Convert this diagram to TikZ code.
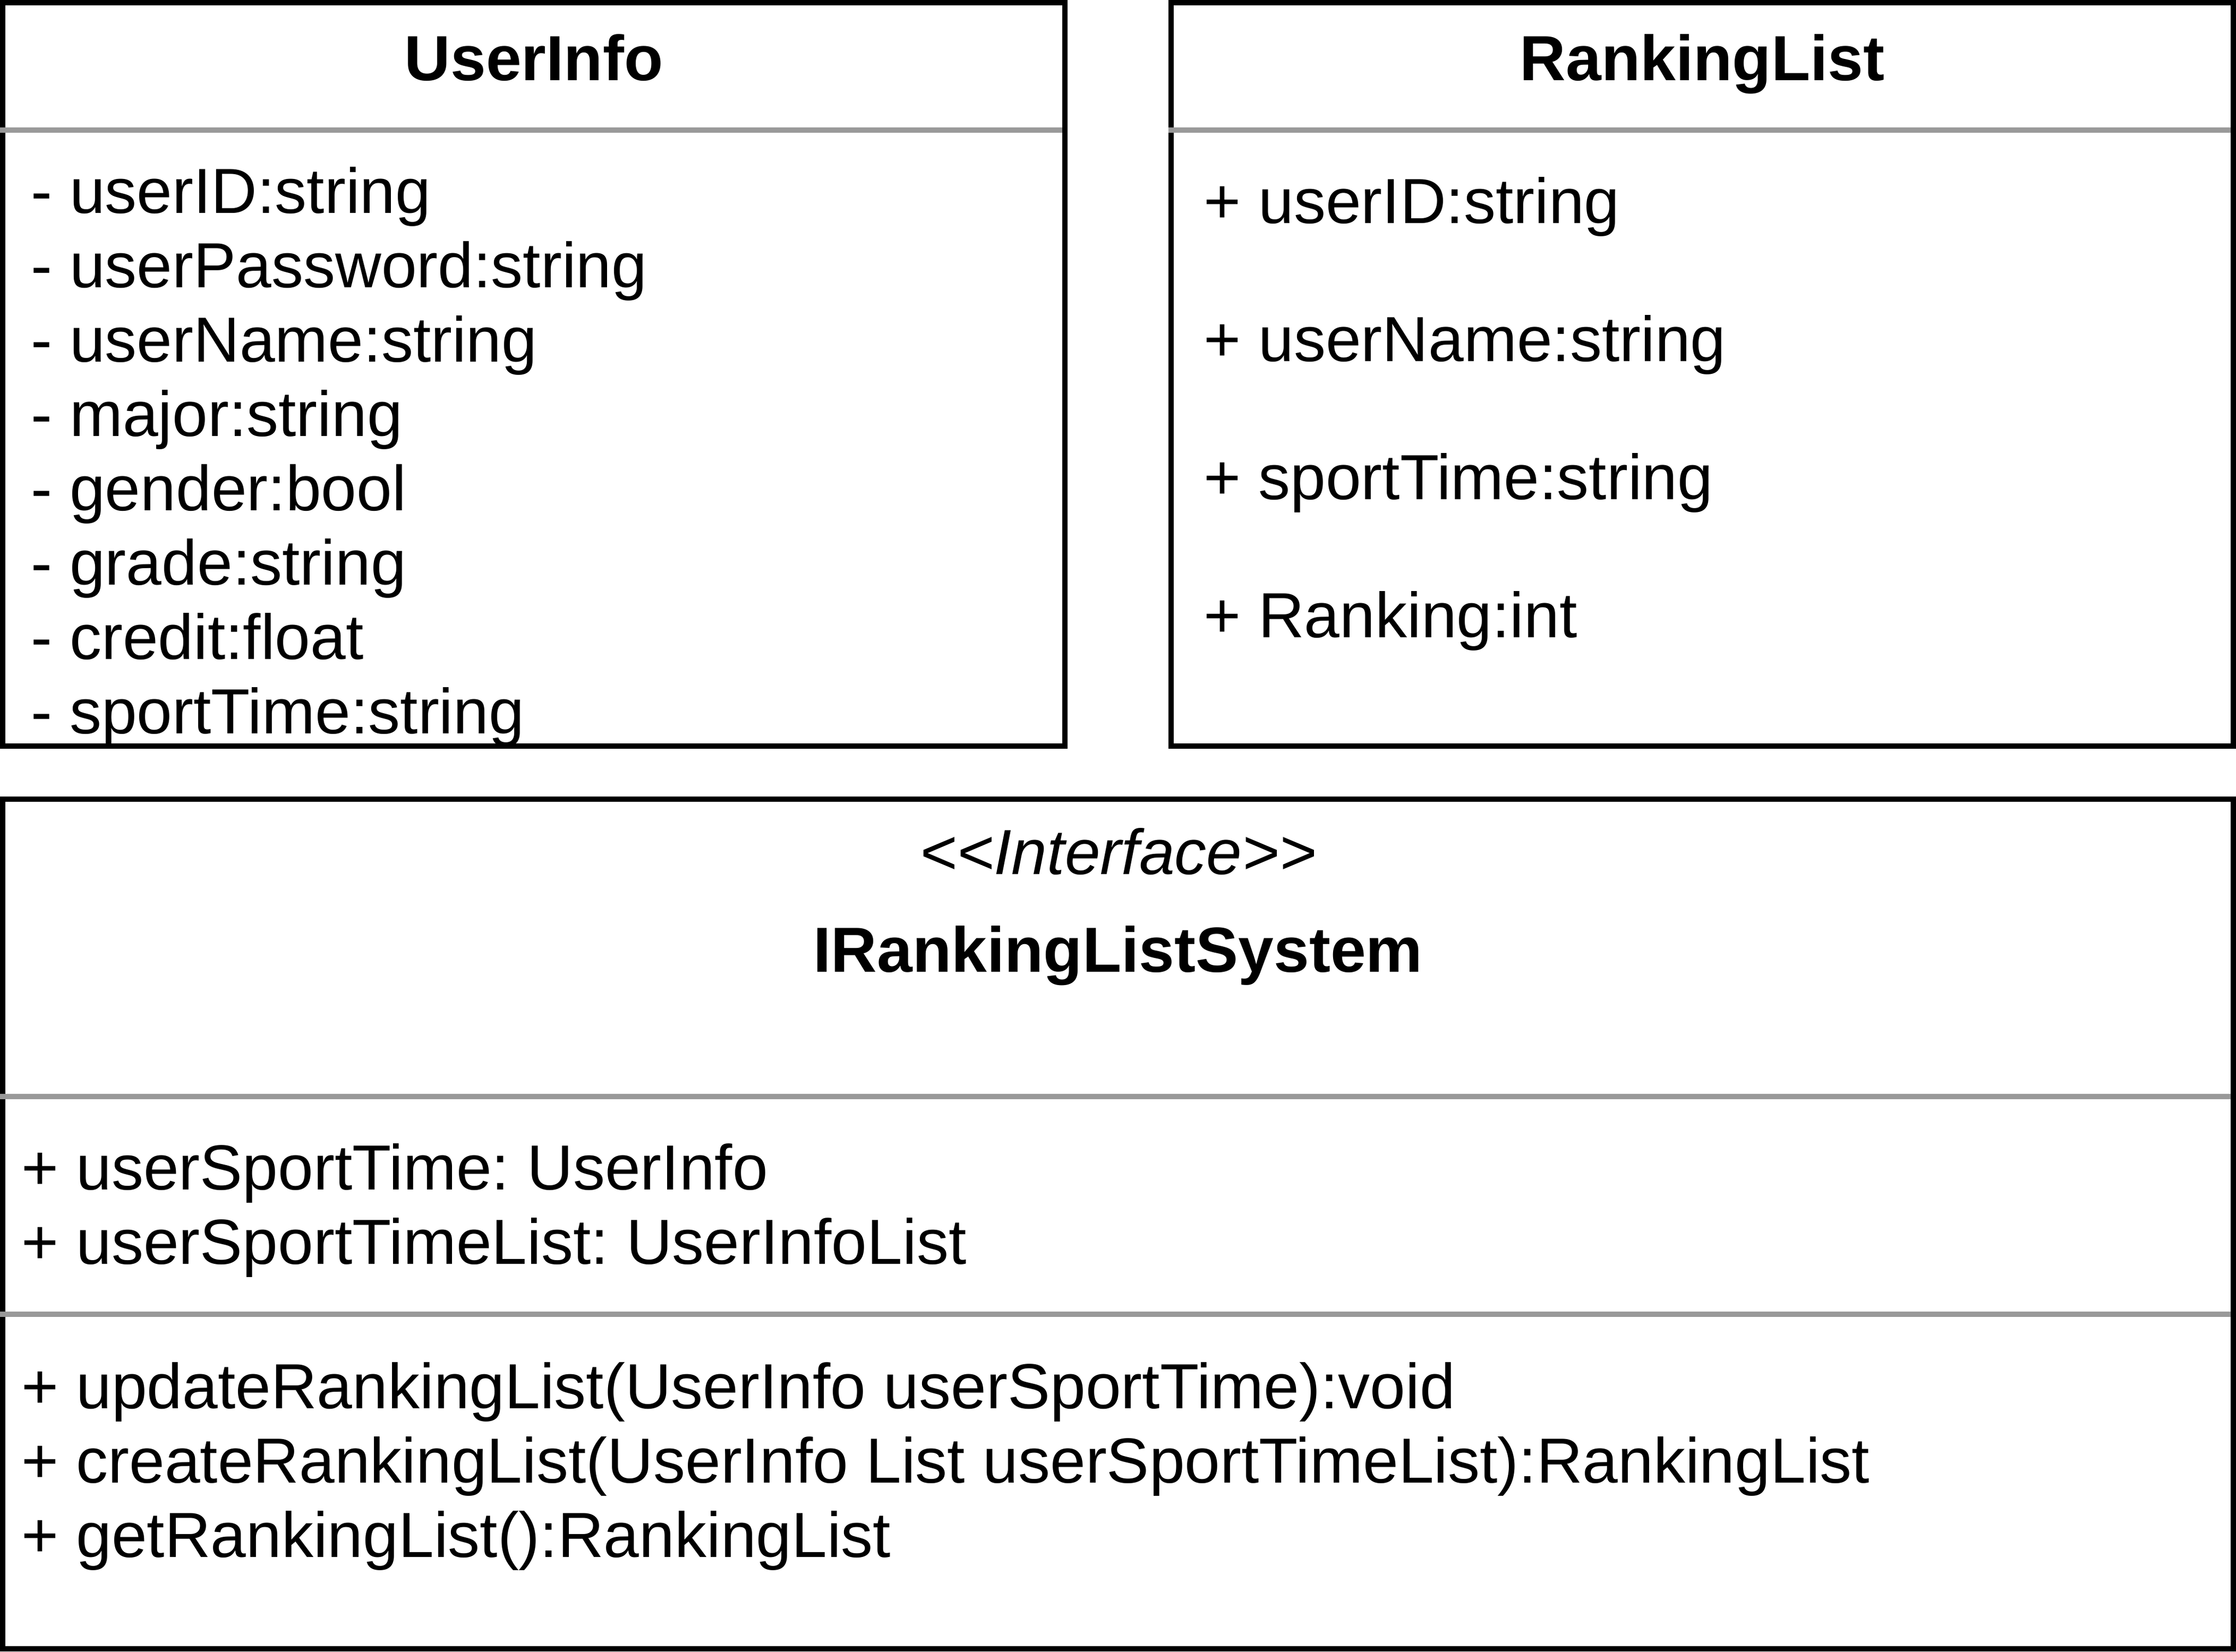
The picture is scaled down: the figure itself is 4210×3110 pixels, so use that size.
\documentclass[tikz,border=0pt]{standalone}
\usepackage{fontspec}
\setmainfont{Liberation Sans}
\frenchspacing
\definecolor{sepgray}{HTML}{999999}
\tikzset{
  box/.style={draw=black, line width=10pt},
  sep/.style={draw=sepgray, line width=10pt},
  txt/.style={inner sep=0pt, outer sep=0pt, font=\fontsize{120}{140}\selectfont},
  ttl/.style={txt, font=\fontsize{120}{140}\selectfont\bfseries, anchor=base},
  attr/.style={txt, anchor=base west}
}
\begin{document}
\begin{tikzpicture}[x=1pt,y=-1pt]
\useasboundingbox (0,0) rectangle (4210,3110);
\fill[white] (0,0) rectangle (4210,3110);
% boxes
\draw[box] (5,5) rectangle (2005,1405);
\draw[box] (2205,5) rectangle (4205,1405);
\draw[box] (5,1505) rectangle (4205,3105);
% separators
\draw[sep] (0,245) -- (2000,245);
\draw[sep] (2200,245) -- (4200,245);
\draw[sep] (0,2065) -- (4200,2065);
\draw[sep] (0,2475) -- (4200,2475);
% UserInfo
\node[ttl] (uititle) at (1005,151) {UserInfo};
\foreach \t [count=\i from 0] in {- userID:string, - userPassword:string, - userName:string, - major:string, - gender:bool, - grade:string, - credit:float, - sportTime:string}
  \node[attr] (ui\i) at (58,{401+140*\i}) {\t};
% RankingList
\node[ttl] (rltitle) at (3205,151) {RankingList};
\foreach \t [count=\i from 0] in {+ userID:string, + userName:string, + sportTime:string, + Ranking:int}
  \node[attr] (rl\i) at (2266,{420+260*\i}) {\t};
% Interface
\node[txt, anchor=base, font=\fontsize{120}{140}\selectfont\itshape] (stereo) at (2105,1646) {<{}<Interface>{}>};
\node[ttl] (ifname) at (2105,1830) {IRankingListSystem};
\node[attr] (ifa0) at (40,2240) {+ userSportTime: UserInfo};
\node[attr] (ifa1) at (40,2380) {+ userSportTimeList: UserInfoList};
\node[attr] (ifm0) at (40,2652) {+ updateRankingList(UserInfo userSportTime):void};
\node[attr] (ifm1) at (40,2792) {+ createRankingList(UserInfo List userSportTimeList):RankingList};
\node[attr] (ifm2) at (40,2932) {+ getRankingList():RankingList};
\end{tikzpicture}
\end{document}
